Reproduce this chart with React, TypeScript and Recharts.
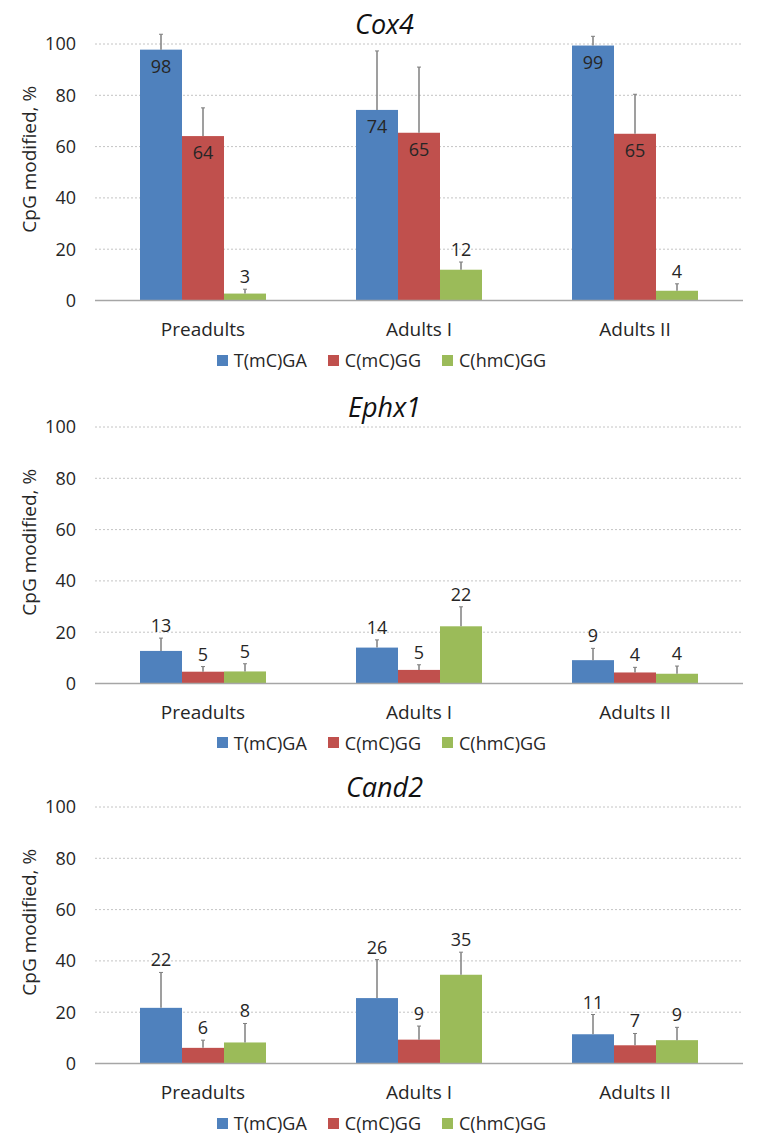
import React from "react";
import { BarChart, Bar, XAxis, YAxis, CartesianGrid, LabelList, Label } from "recharts";

const groups = ["Preadults", "Adults I", "Adults II"];
const seriesNames = ["T(mC)GA", "C(mC)GG", "C(hmC)GG"];
const seriesColors = ["#4F81BD", "#C0504D", "#9BBB59"];
const yTicks = [0, 20, 40, 60, 80, 100];

// Cox4
const cox4Tmc = [97.8, 74.3, 99.4];
const cox4Cmc = [64.1, 65.4, 65.0];
const cox4Chmc = [2.7, 12.0, 3.8];
const cox4TmcErr = [6, 23, 3.6];
const cox4CmcErr = [11, 25.6, 15.4];
const cox4ChmcErr = [1.7, 3, 2.7];

// Ephx1
const ephx1Tmc = [12.7, 14.0, 9.1];
const ephx1Cmc = [4.6, 5.3, 4.3];
const ephx1Chmc = [4.7, 22.3, 3.8];
const ephx1TmcErr = [5, 3, 4.6];
const ephx1CmcErr = [2, 2, 2];
const ephx1ChmcErr = [3, 7.6, 3];

// Cand2
const cand2Tmc = [21.7, 25.5, 11.4];
const cand2Cmc = [6.1, 9.3, 7.1];
const cand2Chmc = [8.2, 34.6, 9.1];
const cand2TmcErr = [13.8, 15, 7.7];
const cand2CmcErr = [3, 5.3, 4.6];
const cand2ChmcErr = [7.4, 8.8, 5];

const FONT = "'Open Sans', sans-serif";
const TEXT = "#262626";
const ERR = "#7f7f7f";

type PanelProps = {
  title: string;
  top: number;
  values: number[][];
  errors: number[][];
};

function Panel({ title, top, values, errors }: PanelProps) {
  const data = groups.map((g, i) => ({
    group: g,
    s0: values[0][i],
    s1: values[1][i],
    s2: values[2][i],
  }));

  // bar with a one-sided error whisker on top
  const barShape = (k: number) => (p: any) => {
    const { x, y, width, height, index, fill } = p;
    const v = values[k][index];
    const errPx = v > 0 ? (errors[k][index] * height) / v : 0;
    const cx = x + width / 2;
    return (
      <g>
        <rect x={x} y={y} width={width} height={height} fill={fill} />
        <line x1={cx} x2={cx} y1={y} y2={y - errPx} stroke={ERR} strokeWidth={1.5} />
        <line x1={cx - 2} x2={cx + 2} y1={y - errPx} y2={y - errPx} stroke={ERR} strokeWidth={1} />
      </g>
    );
  };

  const renderLabel = (k: number) => (props: any) => {
    const vb = props.viewBox || props;
    const x = vb.x ?? props.x;
    const y = vb.y ?? props.y;
    const width = vb.width ?? props.width;
    const height = vb.height ?? props.height;
    const index = props.index;
    const v = values[k][index];
    const cx = x + width / 2;
    if (v >= 50) {
      return (
        <text x={cx} y={y + 16} textAnchor="middle" dominantBaseline="central" fontSize={18} fill={TEXT} fontFamily={FONT}>
          {Math.round(v)}
        </text>
      );
    }
    const errPx = v > 0 ? (errors[k][index] * height) / v : 0;
    return (
      <text x={cx} y={y - errPx - 13} textAnchor="middle" dominantBaseline="central" fontSize={18} fill={TEXT} fontFamily={FONT}>
        {Math.round(v)}
      </text>
    );
  };

  return (
    <div style={{ position: "absolute", left: 0, top, width: 759, height: 380 }}>
      <div
        style={{
          position: "absolute",
          left: 0,
          width: 769,
          top: 25 - 19,
          height: 38,
          lineHeight: "38px",
          textAlign: "center",
          fontFamily: FONT,
          fontStyle: "italic",
          fontSize: 27,
          color: "#111",
        }}
      >
        {title}
      </div>
      <div style={{ position: "absolute", left: 0, top: 0 }}>
        <BarChart
          width={759}
          height={360}
          data={data}
          margin={{ top: 45, right: 16, bottom: 18.5, left: 0 }}
          barGap={0}
          barSize={42}
        >
          <CartesianGrid vertical={false} stroke="#c4c4c4" strokeDasharray="2 2" />
          <XAxis
            dataKey="group"
            height={40}
            tickLine={false}
            axisLine={{ stroke: "#a6a6a6", strokeWidth: 1.5 }}
            tickMargin={16}
            tick={{ fontSize: 19, fill: TEXT, fontFamily: FONT }}
          />
          <YAxis
            width={95}
            domain={[0, 100]}
            ticks={yTicks}
            tickLine={false}
            axisLine={false}
            tickMargin={13}
            tick={{ fontSize: 18, fill: TEXT, fontFamily: FONT }}
          >
            <Label
              content={(p: any) => {
                const vb = p.viewBox;
                const lx = vb.x + 29;
                const ly = vb.y + vb.height / 2 - 13;
                return (
                  <text
                    x={lx}
                    y={ly}
                    transform={`rotate(-90, ${lx}, ${ly})`}
                    textAnchor="middle"
                    dominantBaseline="central"
                    fontSize={19}
                    fill={TEXT}
                    fontFamily={FONT}
                  >
                    CpG modified, %
                  </text>
                );
              }}
            />
          </YAxis>
          {seriesNames.map((name, k) => (
            <Bar
              key={name}
              dataKey={`s${k}`}
              name={name}
              fill={seriesColors[k]}
              shape={barShape(k)}
              isAnimationActive={false}
            >
              <LabelList dataKey={`s${k}`} content={renderLabel(k)} />
            </Bar>
          ))}
        </BarChart>
      </div>
      <div
        style={{
          position: "absolute",
          left: 2,
          width: 759,
          top: 361 - 12,
          height: 24,
          display: "flex",
          justifyContent: "center",
          alignItems: "center",
          fontFamily: FONT,
          fontSize: 18,
          color: TEXT,
        }}
      >
        {seriesNames.map((name, k) => (
          <div key={name} style={{ display: "flex", alignItems: "center", marginLeft: k === 0 ? 0 : 21 }}>
            <div style={{ width: 11, height: 11, background: seriesColors[k], marginRight: 6 }} />
            <span>{name}</span>
          </div>
        ))}
      </div>
    </div>
  );
}

export default function App() {
  return (
    <div style={{ position: "absolute", left: 0, top: 0, width: 759, height: 1141, background: "#fff", overflow: "hidden" }}>
      <Panel
        title="Cox4"
        top={-1}
        values={[cox4Tmc, cox4Cmc, cox4Chmc]}
        errors={[cox4TmcErr, cox4CmcErr, cox4ChmcErr]}
      />
      <Panel
        title="Ephx1"
        top={381.5}
        values={[ephx1Tmc, ephx1Cmc, ephx1Chmc]}
        errors={[ephx1TmcErr, ephx1CmcErr, ephx1ChmcErr]}
      />
      <Panel
        title="Cand2"
        top={762}
        values={[cand2Tmc, cand2Cmc, cand2Chmc]}
        errors={[cand2TmcErr, cand2CmcErr, cand2ChmcErr]}
      />
    </div>
  );
}
